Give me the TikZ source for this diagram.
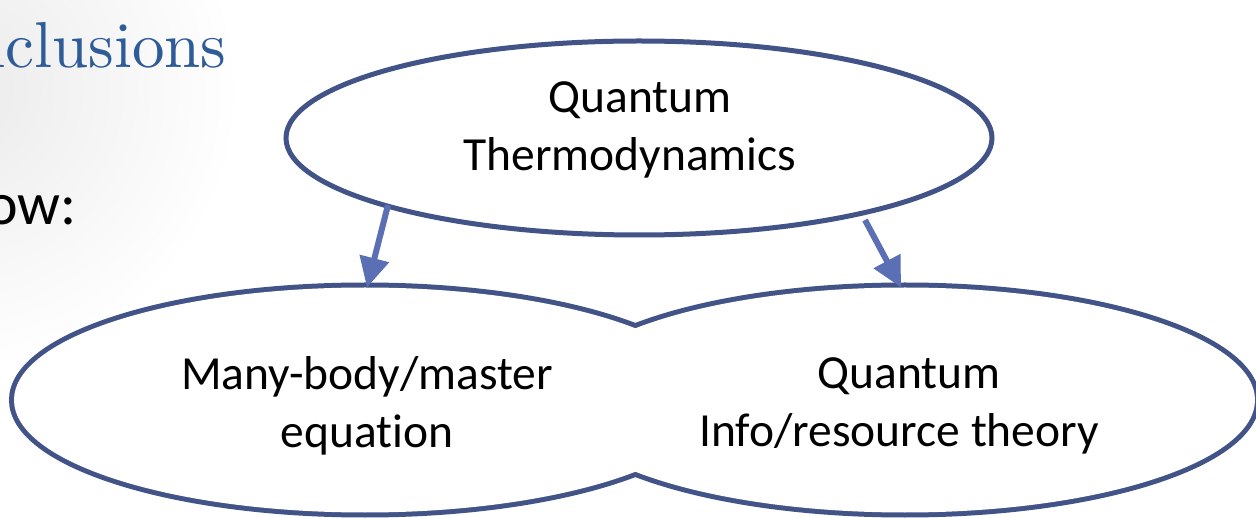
\documentclass[tikz,border=0pt]{standalone}
\usepackage{fontspec}
\newfontfamily\calibri{Carlito}[Ligatures=NoCommon]
\newfontfamily\lmten{lmroman10-regular}[Extension=.otf]
\usetikzlibrary{shapes.geometric,arrows.meta}
\definecolor{edgeblue}{RGB}{65,83,135}
\definecolor{arrowblue}{RGB}{91,111,181}
\definecolor{titleblue}{RGB}{46,92,152}
\begin{document}
\begin{tikzpicture}[x=1pt,y=-1pt,
  ellip/.style={ellipse, inner sep=0pt, outer sep=0pt},
  txt/.style={font=\calibri\fontsize{47.5}{58}\selectfont, align=center, text=black, inner sep=0pt},
  link/.style={-{Triangle[length=30pt,width=29pt]}, draw=arrowblue, line width=6pt}]
\useasboundingbox (0,0) rectangle (1256,518);
\clip (0,0) rectangle (1256,518);
\fill[white] (0,0) rectangle (1256,518);
\shade[inner color=black!8, outer color=white] (-40,90) circle (280);
% title fragments
\node[font=\lmten\fontsize{65}{78}\selectfont, text=titleblue, anchor=base west, inner sep=0pt] (title) at (-31,68) {nclusions};
\node[font=\calibri\fontsize{60}{72}\selectfont, anchor=base west, inner sep=0pt] (below) at (-14,225) {ow:};
% top ellipse
\node[ellip, draw=edgeblue, fill=white, line width=5pt, minimum width=706pt, minimum height=194pt] (top) at (639,138) {};
\node[txt] (toptext) at (630,130) {\hspace*{20pt}Quantum\\Thermodynamics};
% bottom ellipses (union outline)
\node[ellip, draw=edgeblue, line width=10pt, minimum width=702pt, minimum height=225pt] (bl) at (365,400) {};
\node[ellip, draw=edgeblue, line width=10pt, minimum width=700pt, minimum height=225pt] (br) at (905,400) {};
\node[ellip, fill=white, minimum width=702pt, minimum height=225pt] (blfill) at (365,400) {};
\node[ellip, fill=white, minimum width=700pt, minimum height=225pt] (brfill) at (905,400) {};
\node[txt] (bltext) at (367,406) {Many-body/master\\equation};
\node[txt] (brtext) at (899,406) {\hspace*{20pt}Quantum\\Info/resource theory};
% arrows
\coordinate (s1) at (388,205);
\coordinate (s2) at (865,220);
\draw[link] (s1) -- (bl.89);
\draw[link] (s2) -- (br.92.6);
\end{tikzpicture}
\end{document}
